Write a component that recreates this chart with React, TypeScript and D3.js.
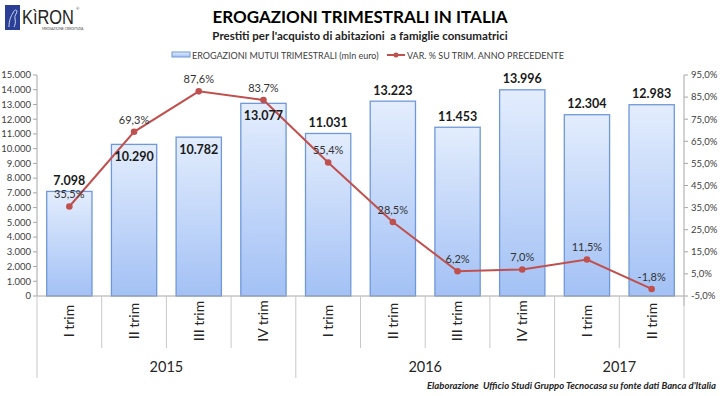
import React from 'react'
import * as d3 from 'd3'

const quarters = ['I trim', 'II trim', 'III trim', 'IV trim', 'I trim', 'II trim', 'III trim', 'IV trim', 'I trim', 'II trim']
const years = ['2015', '2016', '2017']
const quartersPerYear = [4, 4, 2]
const erogazioni = [7098, 10290, 10782, 13077, 11031, 13223, 11453, 13996, 12304, 12983]
const variazione = [35.5, 69.3, 87.6, 83.7, 55.4, 28.5, 6.2, 7.0, 11.5, -1.8]
// excel put some value labels inside the bar top
const labelInside = [false, true, true, true, false, false, false, false, false, false]
const leftTicks = d3.range(0, 15001, 1000)
const rightTicks = d3.range(-5, 96, 10)

const W = 720
const H = 396
const plot = { left: 37, right: 684, top: 75, bottom: 296 }

const font = 'Lato, "Open Sans", sans-serif'
const fmtInt = (v: number) => d3.format(',')(v).replace(/,/g, '.')
const fmtPct = (v: number) => `${v.toFixed(1).replace('.', ',')}%`

const App = () => {
  const idx = d3.range(quarters.length)
  const x = d3.scaleBand<number>()
    .domain(idx)
    .range([plot.left, plot.right])
    .paddingInner(0.3)
    .paddingOuter(0.15)
  const yL = d3.scaleLinear().domain([0, 15000]).range([plot.bottom, plot.top])
  const yR = d3.scaleLinear().domain([-5, 95]).range([plot.bottom, plot.top])
  const cx = (i: number) => (x(i) as number) + x.bandwidth() / 2

  const line = d3.line<number>()
    .x((d, i) => cx(i))
    .y(d => yR(d))

  // year group boundaries (category indexes)
  const bounds = [0]
  quartersPerYear.forEach((n) => { bounds.push(bounds[bounds.length - 1] + n) })
  const edge = (i: number) => plot.left + (i / quarters.length) * (plot.right - plot.left)

  return (
    <svg width={W} height={H} style={{ position: 'absolute', left: 0, top: 0, background: '#fff' }} fontFamily={font}>
      <defs>
        <linearGradient id="barFill" x1="0" y1="0" x2="0" y2="1">
          <stop offset="0%" stopColor="#e3edfd" />
          <stop offset="100%" stopColor="#a3c1f5" />
        </linearGradient>
      </defs>

      {/* logo */}
      <rect x={5} y={5} width={15} height={25} fill="#2b3f94" />
      <path d="M9 27 C9 20 11 16 13 13 C14 10 16 9 17 11 C17 14 14 15 15 19 C16 22 15 25 14 27" fill="none" stroke="#ccd6f5" strokeWidth={1} />
      <text transform="translate(22,24) scale(0.82,1)" fontSize={20} fontFamily="'Liberation Sans', sans-serif" fill="#222">KìRON</text>
      <text x={76} y={10} fontSize={4} fill="#444">®</text>
      <text x={42} y={30} fontSize={3.5} fill="#444">MEDIAZIONE CREDITIZIA</text>

      {/* titles */}
      <text x={360} y={23} textAnchor="middle" fontSize={17} fontWeight="bold" fill="#000">EROGAZIONI TRIMESTRALI IN ITALIA</text>
      <text x={360} y={40} textAnchor="middle" fontSize={11.5} fontWeight="bold" fill="#222" style={{ whiteSpace: 'pre' }}>Prestiti per l'acquisto di abitazioni  a famiglie consumatrici</text>

      {/* legend */}
      <rect x={172} y={52} width={18} height={5} fill="url(#barFill)" stroke="#6f98d8" strokeWidth={1} />
      <text x={192} y={58.5} fontSize={9} fill="#404040">EROGAZIONI MUTUI TRIMESTRALI (mln euro)</text>
      <line x1={387} x2={405} y1={55} y2={55} stroke="#c0504d" strokeWidth={2} />
      <circle cx={396} cy={55} r={2.5} fill="#c0504d" />
      <text x={407} y={58.5} fontSize={9} fill="#404040">VAR. % SU TRIM. ANNO PRECEDENTE</text>

      {/* left axis */}
      <line x1={plot.left} x2={plot.left} y1={plot.top} y2={plot.bottom} stroke="#a6a6a6" />
      {leftTicks.map(t => (
        <g key={`l${t}`}>
          <line x1={plot.left - 4} x2={plot.left} y1={yL(t)} y2={yL(t)} stroke="#a6a6a6" />
          <text x={plot.left - 6} y={yL(t)} dy="0.35em" textAnchor="end" fontSize={9.5} fill="#404040">{fmtInt(t)}</text>
        </g>
      ))}

      {/* right axis */}
      <line x1={plot.right} x2={plot.right} y1={plot.top} y2={plot.bottom + 10} stroke="#a6a6a6" />
      {rightTicks.map(t => (
        <g key={`r${t}`}>
          <line x1={plot.right} x2={plot.right + 4} y1={yR(t)} y2={yR(t)} stroke="#a6a6a6" />
          <text x={plot.right + 7} y={yR(t)} dy="0.35em" fontSize={9.5} fill="#404040">{fmtPct(t)}</text>
        </g>
      ))}

      {/* bars */}
      {erogazioni.map((v, i) => (
        <rect key={`b${i}`} x={x(i)} y={yL(v)} width={x.bandwidth()} height={yL(0) - yL(v)}
          fill="url(#barFill)" stroke="#6f98d8" strokeWidth={1.3} />
      ))}

      {/* category axis */}
      <line x1={plot.left} x2={plot.right} y1={plot.bottom} y2={plot.bottom} stroke="#a6a6a6" />
      {d3.range(quarters.length + 1).map((i) => {
        const isYear = bounds.includes(i)
        return (
          <line key={`s${i}`} x1={edge(i)} x2={edge(i)} y1={plot.bottom} y2={isYear ? 378 : 348} stroke="#c8c8c8" />
        )
      })}
      {quarters.map((q, i) => (
        <text key={`q${i}`} transform={`translate(${cx(i)},321) rotate(-90)`} textAnchor="middle" dy="0.35em"
          fontSize={14} fill="#262626">{q}</text>
      ))}
      {years.map((yr, k) => (
        <text key={yr} x={(edge(bounds[k]) + edge(bounds[k + 1])) / 2} y={372} textAnchor="middle"
          fontSize={14.5} fill="#262626">{yr}</text>
      ))}

      {/* line series */}
      <path d={line(variazione) || ''} fill="none" stroke="#c0504d" strokeWidth={2} />
      {variazione.map((v, i) => (
        <circle key={`p${i}`} cx={cx(i)} cy={yR(v)} r={3.3} fill="#c0504d" />
      ))}

      {/* labels */}
      {erogazioni.map((v, i) => (
        <text key={`bl${i}`} x={cx(i)} y={labelInside[i] ? yL(v) + 12 : yL(v) - 11} dy="0.35em" textAnchor="middle"
          fontSize={12.5} fontWeight="bold" fill="#1a1a1a">{fmtInt(v)}</text>
      ))}
      {variazione.map((v, i) => (
        <text key={`pl${i}`} x={cx(i)} y={yR(v) - 12} dy="0.35em" textAnchor="middle"
          fontSize={11} fill="#333">{fmtPct(v)}</text>
      ))}

      <text x={716} y={389} textAnchor="end" fontSize={9.5} fontWeight="bold" fontStyle="italic" fill="#222" style={{ whiteSpace: 'pre' }}>
        Elaborazione  Ufficio Studi Gruppo Tecnocasa su fonte dati Banca d'Italia
      </text>
    </svg>
  )
}

export default App
